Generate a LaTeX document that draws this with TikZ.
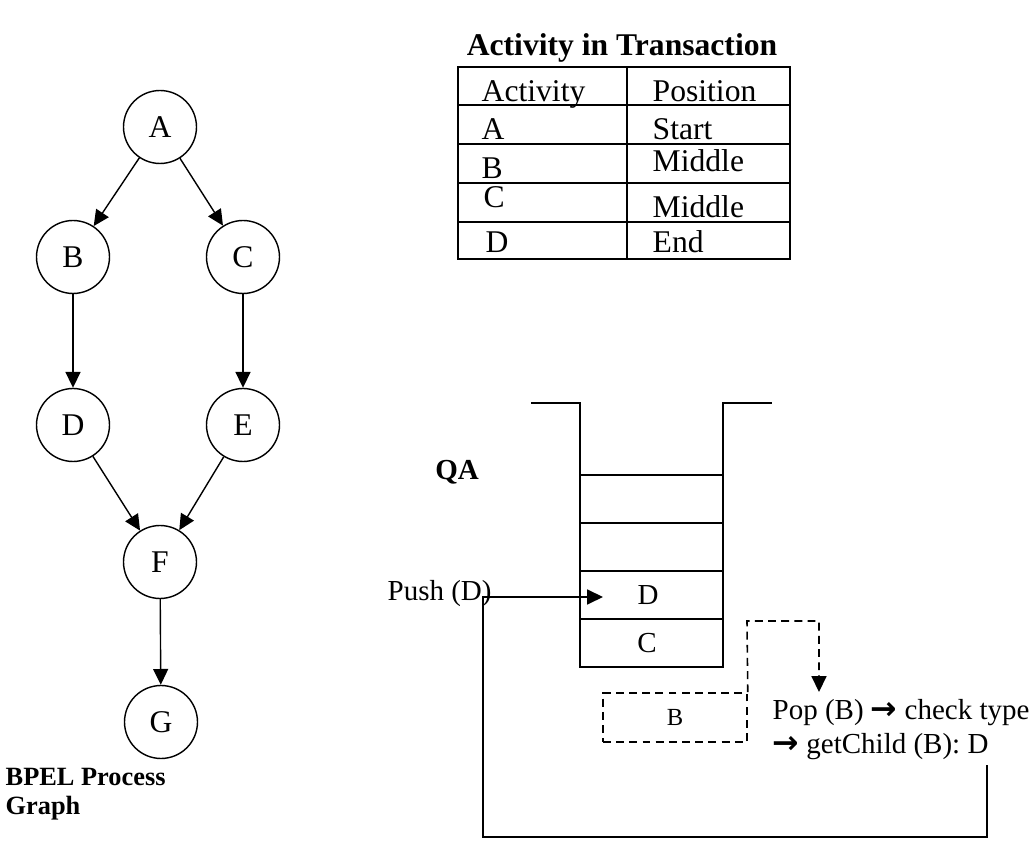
\documentclass[tikz,border=0pt]{standalone}
\usepackage{fontspec}
\setmainfont{Liberation Serif}
\newfontfamily\arrowfont{DejaVu Sans}
\usetikzlibrary{arrows.meta,positioning}
\newcommand{\rarr}{{\arrowfont\bfseries\fontsize{18}{18}\selectfont →}}
\begin{document}
\begin{tikzpicture}[x=0.02cm,y=-0.02cm,
  line width=0.8pt,
  every node/.style={inner sep=0pt},
  vert/.style={circle,draw,line width=0.8pt,minimum size=1.46cm,font=\fontsize{18}{20}\selectfont},
  tip/.style={-{Triangle[length=9pt,width=8.5pt]}},
  edge/.style={tip,line width=0.8pt},
  txt/.style={anchor=base west,font=\fontsize{16.5}{18}\selectfont},
  ttxt/.style={anchor=base west,font=\fontsize{18}{20}\selectfont},
  ctxt/.style={font=\fontsize{16.5}{18}\selectfont},
  btxt/.style={anchor=base west,font=\fontsize{15}{17}\selectfont\bfseries},
  dbox/.style={draw,dashed,dash pattern=on 4.5pt off 3pt,line width=0.9pt}]
\useasboundingbox (0,0) rectangle (1036,841);
% graph
\node[vert] (A) at (160,127) {A};
\node[vert] (B) at (73,257) {B};
\node[vert] (C) at (243,257) {C};
\node[vert] (D) at (73,425) {D};
\node[vert] (E) at (243,425) {E};
\node[vert] (F) at (160,562) {F};
\node[vert] (G) at (161,722) {G};
\draw[edge] (A) -- (B);
\draw[edge] (A) -- (C);
\draw[edge] (B) -- (D);
\draw[edge] (C) -- (E);
\draw[edge] (D) -- (F);
\draw[edge] (E) -- (F);
\draw[edge] (F) -- (G);
\node[btxt] (bp1) at (5,786) {BPEL Process};
\node[btxt] (bp2) at (5,814) {Graph};
% table
\node[font=\fontsize{18}{20}\selectfont\bfseries] (title) at (622,48) {Activity in Transaction};
\draw (458,67) rectangle (790,259);
\foreach \y in {105,144,183,222} \draw (458,\y) -- (790,\y);
\draw (627,67) -- (627,259);
\node[ttxt] (t11) at (481,102) {Activity};
\node[ttxt] (t12) at (652,102) {Position};
\node[ttxt] (t21) at (481,140) {A};
\node[ttxt] (t22) at (652,140) {Start};
\node[ttxt] (t31) at (481,179) {B};
\node[ttxt] (t32) at (652,172) {Middle};
\node[ttxt] (t41) at (483,208) {C};
\node[ttxt] (t42) at (652,218) {Middle};
\node[ttxt] (t51) at (485,253) {D};
\node[ttxt] (t52) at (652,253) {End};
% stack
\draw (531,403) -- (580,403) -- (580,667) -- (723,667) -- (723,403) -- (772,403);
\foreach \y in {475,523,571,619} \draw (580,\y) -- (723,\y);
\node[font=\fontsize{16.5}{18}\selectfont\bfseries] (qa) at (457,472) {QA};
\node[ctxt] (sD) at (648,595) {D};
\node[ctxt] (sC) at (647,643) {C};
\node[txt] (push) at (387,601) {Push (D)};
% dashed B box and pop
\node[dbox,minimum width=2.88cm,minimum height=0.98cm,font=\fontsize{14}{16}\selectfont] (Bbox) at (675,717.5) {B};
\node[txt] (pop1) at (772,720) {Pop (B) \rarr{} check type};
\node[txt] (pop2) at (772,753) {\rarr{} getChild (B): D};
\coordinate (popIn) at (819,692);
\coordinate (gcOut) at (987,765);
\coordinate (pushTip) at (603,597);
\draw[dbox,tip] (Bbox.north east) -- (747,621) -- (819,621) -- (popIn);
\draw[edge] (gcOut) -- (987,837) -- (483,837) -- (483,597) -- (pushTip);
\end{tikzpicture}
\end{document}
